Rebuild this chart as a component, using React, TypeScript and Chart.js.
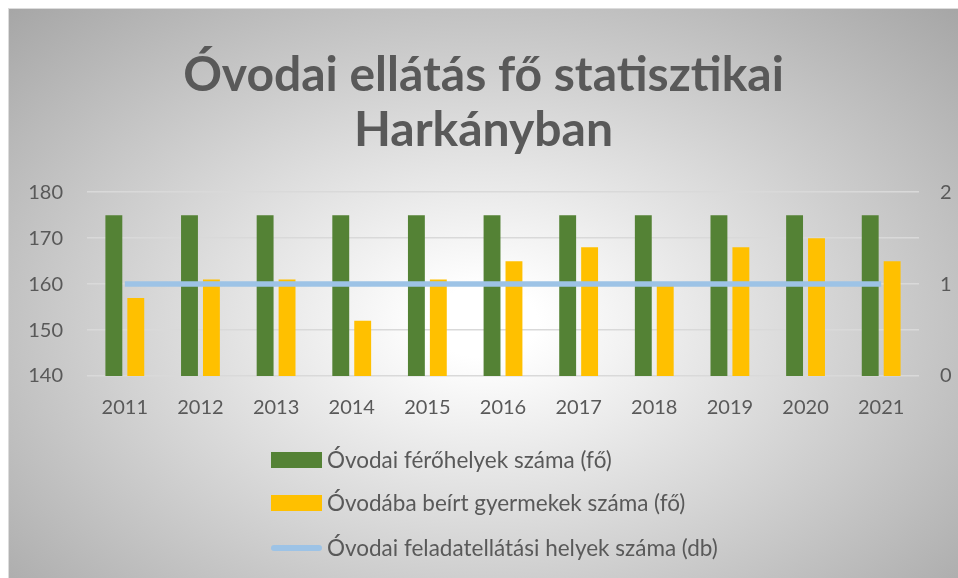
import React, { useEffect, useRef } from "react";
import { Chart, registerables } from "chart.js";

Chart.register(...registerables);

const years = ["2011", "2012", "2013", "2014", "2015", "2016", "2017", "2018", "2019", "2020", "2021"];
const ferohelyek = [175, 175, 175, 175, 175, 175, 175, 175, 175, 175, 175];
const beirtGyermekek = [157, 161, 161, 152, 161, 165, 168, 160, 168, 170, 165];
const feladatellatasiHelyek = [1, 1, 1, 1, 1, 1, 1, 1, 1, 1, 1];
const titleLines = ["Óvodai ellátás fő statisztikai", "Harkányban"];
const seriesLabels = [
  "Óvodai férőhelyek száma (fő)",
  "Óvodába beírt gyermekek száma (fő)",
  "Óvodai feladatellátási helyek száma (db)",
];

const TEXT = "#595959";
const FONT = "Lato";

const verticalLegend = {
  id: "verticalLegend",
  afterDraw(chart: any) {
    const ctx = chart.ctx;
    const rows = [451, 494, 539];
    const boxX = 262;
    const boxW = 51;
    const textX = 318;
    ctx.save();
    ctx.font = `22.5px ${FONT}`;
    ctx.textBaseline = "middle";
    ctx.textAlign = "left";
    chart.data.datasets.forEach((ds: any, i: number) => {
      const y = rows[i];
      if (ds.type === "line") {
        ctx.strokeStyle = ds.borderColor;
        ctx.lineWidth = 6;
        ctx.lineCap = "round";
        ctx.beginPath();
        ctx.moveTo(boxX + 3, y);
        ctx.lineTo(boxX + boxW - 3, y);
        ctx.stroke();
      } else {
        ctx.fillStyle = ds.backgroundColor;
        ctx.fillRect(boxX, y - 8, boxW, 16);
      }
      ctx.fillStyle = TEXT;
      ctx.fillText(ds.label, textX, y + 1);
    });
    ctx.restore();
  },
};

export default function App() {
  const ref = useRef<HTMLCanvasElement>(null);
  useEffect(() => {
    document.body.style.overflow = "hidden";
    const chart = new Chart(ref.current!, {
      type: "bar",
      data: {
        labels: years,
        datasets: [
          {
            type: "bar",
            label: seriesLabels[0],
            data: ferohelyek,
            backgroundColor: "#548235",
            yAxisID: "y",
            order: 1,
            categoryPercentage: 0.58,
            barPercentage: 0.77,
          },
          {
            type: "bar",
            label: seriesLabels[1],
            data: beirtGyermekek,
            backgroundColor: "#FFC000",
            yAxisID: "y",
            order: 1,
            categoryPercentage: 0.58,
            barPercentage: 0.77,
          },
          {
            type: "line",
            label: seriesLabels[2],
            data: feladatellatasiHelyek,
            borderColor: "#9DC3E6",
            backgroundColor: "#9DC3E6",
            borderWidth: 5.5,
            pointRadius: 0,
            yAxisID: "y1",
            order: 0,
          },
        ] as any,
      },
      options: {
        animation: false,
        responsive: true,
        maintainAspectRatio: false,
        layout: { padding: 0 },
        plugins: {
          legend: { display: false },
          tooltip: { enabled: false },
          title: {
            display: true,
            text: titleLines,
            color: TEXT,
            font: { family: FONT, size: 48, weight: "bold", lineHeight: 1.15 },
            padding: { top: 38.8, bottom: 34 },
          },
        },
        scales: {
          x: {
            grid: { display: false, drawTicks: false },
            border: { display: false },
            ticks: { color: TEXT, font: { family: FONT, size: 20 }, padding: 20 },
            afterFit: (s: any) => { s.height = 202; },
          },
          y: {
            position: "left",
            min: 140,
            max: 180,
            ticks: { stepSize: 10, color: TEXT, font: { family: FONT, size: 20 }, padding: 24 },
            grid: { color: "#d9d9d9", lineWidth: 1.5, drawTicks: false },
            border: { display: false },
            afterFit: (s: any) => { s.width = 78; },
          },
          y1: {
            position: "right",
            min: 0,
            max: 2,
            ticks: { stepSize: 1, color: TEXT, font: { family: FONT, size: 20 }, padding: 21 },
            grid: { display: false, drawTicks: false },
            border: { display: false },
            afterFit: (s: any) => { s.width = 39; },
          },
        },
      } as any,
      plugins: [verticalLegend],
    });
    return () => chart.destroy();
  }, []);

  return (
    <div
      style={{
        position: "fixed",
        left: 8,
        top: 8,
        width: 949,
        height: 569,
        borderLeft: "1px solid #dcdcdc",
        borderTop: "1px solid #dcdcdc",
        background:
          "radial-gradient(ellipse farthest-corner at 50% 55%, #ffffff 0%, #ffffff 8%, #a6a6a6 100%)",
      }}
    >
      <canvas ref={ref} />
    </div>
  );
}
